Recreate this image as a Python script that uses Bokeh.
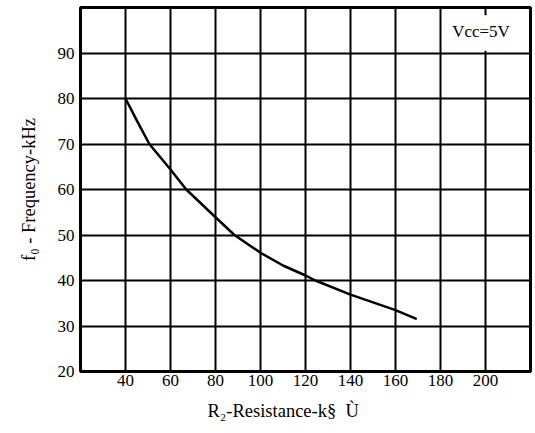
from bokeh.plotting import figure
from bokeh.models import FixedTicker, Range1d, Title
from bokeh.embed import file_html
from bokeh.resources import INLINE
from bokeh.core.properties import value

# Data
resistance_k = [40, 45, 50.6, 60, 67, 80, 88.4, 100, 110, 120, 124.4, 140, 160, 169]
frequency_khz = [80, 75.2, 70, 64.4, 60, 53.9, 50, 46.1, 43.3, 41.1, 40, 36.9, 33.5, 31.6]

x_ticks = [40, 60, 80, 100, 120, 140, 160, 180, 200]
y_ticks = [20, 30, 40, 50, 60, 70, 80, 90]

note_text = "Vcc=5V"
x_title = "R\u2082-Resistance-k\u00a7\u00a0\u00a0\u00d9"
y_title = "f\u2080 - Frequency-kHz"

FONT = "Liberation Serif"

p = figure(width=535, height=433, output_backend="svg", toolbar_location=None,
           x_range=Range1d(20, 220), y_range=Range1d(20, 100),
           min_border_left=80, min_border_right=5, min_border_top=7, min_border_bottom=62)

p.background_fill_color = "white"
p.border_fill_color = "white"
p.outline_line_color = "black"
p.outline_line_width = 3

p.xaxis.ticker = FixedTicker(ticks=x_ticks)
p.yaxis.ticker = FixedTicker(ticks=y_ticks)
for ax in (p.xaxis, p.yaxis):
    ax.axis_line_color = None
    ax.major_tick_line_color = None
    ax.minor_tick_line_color = None
    ax.major_tick_out = 0
    ax.major_tick_in = 0
    ax.major_label_text_font = FONT
    ax.major_label_text_font_size = "17px"
    ax.major_label_text_color = "black"
p.xaxis.major_label_standoff = 3
p.yaxis.major_label_standoff = 6

p.yaxis.axis_label = y_title
p.yaxis.axis_label_text_font = FONT
p.yaxis.axis_label_text_font_size = "18.5px"
p.yaxis.axis_label_text_font_style = "normal"
p.yaxis.axis_label_text_color = "black"
p.yaxis.axis_label_standoff = 16

p.xgrid.ticker = FixedTicker(ticks=x_ticks)
p.ygrid.ticker = FixedTicker(ticks=y_ticks)
for g in (p.xgrid, p.ygrid):
    g.grid_line_color = "black"
    g.grid_line_width = 2
    g.grid_line_alpha = 1.0

# x title as a side title so it can be shifted left like the reference
xt = Title(text=x_title, align="left", offset=127, standoff=20,
           text_font=FONT, text_font_size="18.5px", text_font_style="normal",
           text_color="black")
p.add_layout(xt, "below")

# white note box covering the grid in the top-right cell
p.quad(left=[181], right=[219.3], bottom=[90.5], top=[98.3],
       fill_color="white", line_color=None)
p.text(x=[198], y=[94.8], text=[note_text], text_font=value(FONT),
       text_font_size="17px", text_align="center", text_baseline="middle",
       text_color="black")

p.line(resistance_k, frequency_khz, line_color="black", line_width=2.5,
       line_join="round", line_cap="round")

open("out.html", "w").write(file_html(p, INLINE))
